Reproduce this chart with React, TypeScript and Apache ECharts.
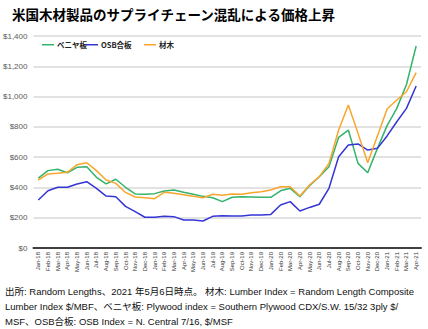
import React, { useEffect, useRef } from "react";
import * as echarts from "echarts";

const months: string[] = [
  "Jan-18", "Feb-18", "Mar-18", "Apr-18", "May-18", "Jun-18", "Jul-18", "Aug-18", "Sep-18", "Oct-18", "Nov-18", "Dec-18",
  "Jan-19", "Feb-19", "Mar-19", "Apr-19", "May-19", "Jun-19", "Jul-19", "Aug-19", "Sep-19", "Oct-19", "Nov-19", "Dec-19",
  "Jan-20", "Feb-20", "Mar-20", "Apr-20", "May-20", "Jun-20", "Jul-20", "Aug-20", "Sep-20", "Oct-20", "Nov-20", "Dec-20",
  "Jan-21", "Feb-21", "Mar-21", "Apr-21",
];

const plywood: number[] = [
  462, 511, 520, 497, 533, 537, 467, 423, 454, 401, 357, 355,
  359, 376, 383, 368, 355, 341, 332, 306, 335, 339, 337, 335,
  335, 378, 394, 339, 412, 471, 537, 731, 779, 559, 497, 658,
  808, 922, 1080, 1334,
];

const osb: number[] = [
  317, 378, 401, 401, 423, 438, 394, 343, 339, 275, 240, 203,
  203, 209, 207, 185, 185, 178, 209, 213, 211, 211, 218, 218,
  222, 284, 306, 244, 268, 289, 394, 603, 680, 687, 647, 658,
  740, 834, 922, 1070,
];

const lumber: number[] = [
  449, 489, 493, 500, 550, 563, 511, 449, 427, 367, 337, 332,
  326, 368, 361, 352, 341, 332, 355, 348, 357, 355, 365, 372,
  383, 405, 405, 343, 416, 471, 559, 779, 944, 757, 563, 740,
  918, 977, 1032, 1158,
];

const seriesNames: string[] = ["ベニヤ板", "OSB合板", "材木"];
const seriesColors: string[] = ["#33b36b", "#3535d6", "#f8a52c"];
const yTicks = { min: 0, max: 1400, interval: 200 };

const titleText = "米国木材製品のサプライチェーン混乱による価格上昇";
const footnoteLines: string[] = [
  "出所: Random Lengths、2021 年5月6日時点。 材木: Lumber Index = Random Length Composite",
  "Lumber Index $/MBF、ベニヤ板: Plywood index = Southern Plywood CDX/S.W. 15/32 3ply $/",
  "MSF、OSB合板: OSB Index = N. Central 7/16, $/MSF",
];

export default function App() {
  const ref = useRef<HTMLDivElement>(null);
  useEffect(() => {
    if (!ref.current) return;
    const chart = echarts.init(ref.current, undefined, { renderer: "svg" });
    const data = [plywood, osb, lumber];
    const legendLefts = [42, 86, 144];
    chart.setOption({
      animation: false,
      backgroundColor: "#ffffff",
      title: {
        text: titleText,
        left: 7,
        top: 2,
        textStyle: {
          fontSize: 13.5,
          fontWeight: "bold",
          color: "#000",
          fontFamily: "Noto Sans CJK JP",
        },
      },
      legend: seriesNames.map((n, i) => ({
        data: [n],
        left: legendLefts[i],
        top: 41,
        icon: "rect",
        itemWidth: 12,
        itemHeight: 1.5,
        itemGap: 2,
        padding: 0,
        textStyle: {
          fontSize: 7.5,
          fontWeight: "bold",
          color: "#222",
          fontFamily: "Noto Sans CJK JP",
          padding: [0, 0, 0, -2],
        },
      })),
      grid: { left: 33, right: 7, top: 36, bottom: 81, containLabel: false },
      xAxis: {
        type: "category",
        data: months,
        boundaryGap: true,
        axisLine: { show: true, lineStyle: { color: "#404040", width: 2 } },
        axisTick: { show: false },
        axisLabel: {
          rotate: 90,
          fontSize: 6,
          color: "#333",
          interval: 0,
          margin: 4,
          fontFamily: "Liberation Sans",
        },
      },
      yAxis: {
        type: "value",
        min: yTicks.min,
        max: yTicks.max,
        interval: yTicks.interval,
        axisLine: { show: false },
        axisTick: { show: false },
        splitLine: { lineStyle: { color: "#d9d9d9", width: 1.5 } },
        axisLabel: {
          fontSize: 8,
          color: "#595959",
          margin: 6,
          fontFamily: "Liberation Sans",
          formatter: (v: number) => "$" + v.toLocaleString("en-US"),
        },
      },
      series: seriesNames.map((n, i) => ({
        name: n,
        type: "line",
        data: data[i],
        showSymbol: false,
        symbol: "none",
        lineStyle: { color: seriesColors[i], width: 1.5 },
        itemStyle: { color: seriesColors[i] },
      })),
      graphic: footnoteLines.map((t, i) => ({
        type: "text",
        left: 5,
        top: 287 + i * 15,
        style: {
          text: t,
          fontSize: 9.5,
          fill: "#111",
          fontFamily: "Liberation Sans, Noto Sans CJK JP",
        },
      })),
    });
    return () => chart.dispose();
  }, []);
  return (
    <div
      ref={ref}
      style={{ position: "fixed", left: 0, top: 0, width: 428, height: 329 }}
    />
  );
}
